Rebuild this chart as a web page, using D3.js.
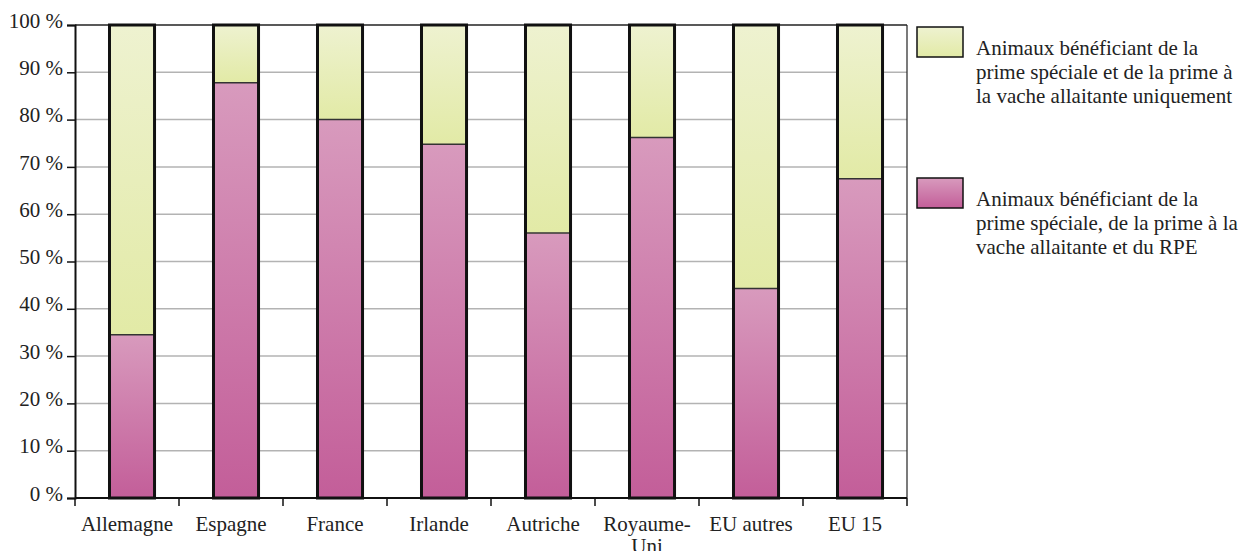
<!DOCTYPE html>
<html>
<head>
<meta charset="utf-8">
<script src="https://d3js.org/d3.v7.min.js"></script>
<style>
  body { margin: 0; background: #fff; }
  text { font-family: "Liberation Serif", "DejaVu Serif", serif; fill: #222; }
</style>
</head>
<body>
<script>
var categories = ["Allemagne", "Espagne", "France", "Irlande", "Autriche", "Royaume-Uni", "EU autres", "EU 15"];
var labelLines = [["Allemagne"], ["Espagne"], ["France"], ["Irlande"], ["Autriche"], ["Royaume-", "Uni"], ["EU autres"], ["EU 15"]];
var withRPE = [34.5, 87.8, 80, 74.8, 56, 76.2, 44.3, 67.5];   // magenta, bottom
var withoutRPE = withRPE.map(function(v){ return 100 - v; }); // green, top (rest of 100 %)
var yTicks = [0, 10, 20, 30, 40, 50, 60, 70, 80, 90, 100];
var legendItems = [
  { lines: ["Animaux bénéficiant de la", "prime spéciale et de la prime à", "la vache allaitante uniquement"], fill: "url(#gGreen)" },
  { lines: ["Animaux bénéficiant de la", "prime spéciale, de la prime à la", "vache allaitante et du RPE"], fill: "url(#gPink)" }
];

var width = 1246, height = 551;
var mLeft = 75, mRight = 907, mTop = 25, mBottom = 498;
var fs = "21px";

var svg = d3.select("body").append("svg")
  .attr("width", width).attr("height", height);

var defs = svg.append("defs");
function grad(id, c1, c2) {
  var g = defs.append("linearGradient").attr("id", id)
    .attr("x1", 0).attr("y1", 0).attr("x2", 0).attr("y2", 1);
  g.append("stop").attr("offset", "0%").attr("stop-color", c1);
  g.append("stop").attr("offset", "100%").attr("stop-color", c2);
}
grad("gPink", "#d89abd", "#c35e99");
grad("gGreen", "#eef2d0", "#e2eaa6");

// bars sit a little right of the band centre, as in the original
var x = d3.scaleBand().domain(categories).range([mLeft, mRight])
  .paddingInner(0.567).paddingOuter(0.2835).align(0.585);
var band = d3.scaleBand().domain(categories).range([mLeft, mRight]);
var y = d3.scaleLinear().domain([0, 100]).range([mBottom, mTop]);

// grid
svg.append("g").selectAll("line").data(yTicks.filter(function(d){ return d > 0 && d < 100; }))
  .enter().append("line")
  .attr("x1", mLeft).attr("x2", mRight)
  .attr("y1", function(d){ return y(d); }).attr("y2", function(d){ return y(d); })
  .attr("stroke", "#b3b3b3").attr("stroke-width", 1.5);

// frame top/right
svg.append("line").attr("x1", mLeft).attr("x2", mRight).attr("y1", y(100)).attr("y2", y(100))
  .attr("stroke", "#222").attr("stroke-width", 1.5);
svg.append("line").attr("x1", mRight).attr("x2", mRight).attr("y1", y(100)).attr("y2", y(0))
  .attr("stroke", "#222").attr("stroke-width", 1.2);

// bars
var bars = svg.append("g").selectAll("g").data(categories).enter().append("g");
bars.append("rect")
  .attr("x", function(d){ return x(d); })
  .attr("width", x.bandwidth())
  .attr("y", function(d, i){ return y(withRPE[i]); })
  .attr("height", function(d, i){ return y(0) - y(withRPE[i]); })
  .attr("fill", "url(#gPink)");
bars.append("rect")
  .attr("x", function(d){ return x(d); })
  .attr("width", x.bandwidth())
  .attr("y", function(d, i){ return y(withRPE[i] + withoutRPE[i]); })
  .attr("height", function(d, i){ return y(withRPE[i]) - y(withRPE[i] + withoutRPE[i]); })
  .attr("fill", "url(#gGreen)");
bars.append("line")
  .attr("x1", function(d){ return x(d); })
  .attr("x2", function(d){ return x(d) + x.bandwidth(); })
  .attr("y1", function(d, i){ return y(withRPE[i]); })
  .attr("y2", function(d, i){ return y(withRPE[i]); })
  .attr("stroke", "#333").attr("stroke-width", 1.5);
bars.append("rect")
  .attr("x", function(d){ return x(d); })
  .attr("width", x.bandwidth())
  .attr("y", y(100))
  .attr("height", y(0) - y(100))
  .attr("fill", "none").attr("stroke", "#111").attr("stroke-width", 3);

// y axis
var yAxis = d3.axisLeft(y).tickValues(yTicks).tickSize(8).tickPadding(4)
  .tickFormat(function(d){ return d + " %"; });
var ya = svg.append("g").attr("transform", "translate(" + mLeft + ",0)").call(yAxis);
ya.select(".domain").attr("stroke", "#111").attr("stroke-width", 2);
ya.selectAll(".tick line").attr("stroke", "#111").attr("stroke-width", 1.5);
ya.selectAll(".tick text").style("font-family", "Liberation Serif, serif")
  .style("font-size", fs).attr("fill", "#222").attr("dy", "0.1em");

// x axis
svg.append("line").attr("x1", mLeft).attr("x2", mRight).attr("y1", mBottom).attr("y2", mBottom)
  .attr("stroke", "#111").attr("stroke-width", 2);
var bounds = categories.map(function(c){ return band(c); }).concat([mRight]);
svg.append("g").selectAll("line").data(bounds).enter().append("line")
  .attr("x1", function(d){ return d; }).attr("x2", function(d){ return d; })
  .attr("y1", mBottom).attr("y2", mBottom + 8)
  .attr("stroke", "#111").attr("stroke-width", 1.5);
var xl = svg.append("g").selectAll("text").data(categories).enter().append("text")
  .attr("x", function(d){ return band(d) + band.bandwidth() / 2; })
  .attr("y", 531)
  .attr("text-anchor", "middle")
  .style("font-size", fs);
xl.selectAll("tspan").data(function(d, i){ return labelLines[i]; }).enter().append("tspan")
  .attr("x", function(){ return d3.select(this.parentNode).attr("x"); })
  .attr("dy", function(d, i){ return i === 0 ? 0 : 22; })
  .text(function(d){ return d; });

// legend
var leg = svg.append("g").selectAll("g").data(legendItems).enter().append("g")
  .attr("transform", function(d, i){ return "translate(917," + (27 + i * 151) + ")"; });
leg.append("rect").attr("width", 46).attr("height", 30)
  .attr("fill", function(d){ return d.fill; }).attr("stroke", "#111").attr("stroke-width", 1.5);
leg.append("text").attr("x", 59).attr("y", 28).style("font-size", fs)
  .selectAll("tspan").data(function(d){ return d.lines; }).enter().append("tspan")
  .attr("x", 59).attr("dy", function(d, i){ return i === 0 ? 0 : 24; })
  .text(function(d){ return d; });
</script>
</body>
</html>
